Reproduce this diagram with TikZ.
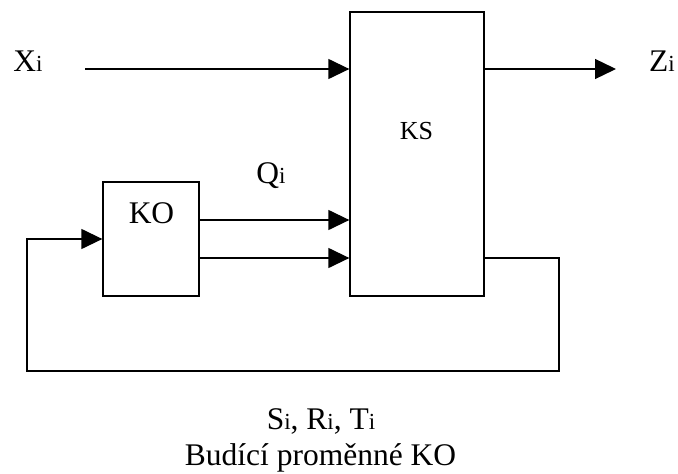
\documentclass[tikz,border=0pt]{standalone}
\usepackage{fontspec}
\setmainfont{Liberation Serif}
\usetikzlibrary{arrows.meta}
\newcommand\smi[1]{{\fontsize{23}{23}\selectfont #1}}
\begin{document}
\begin{tikzpicture}[x=1pt,y=-1pt,
  box/.style={draw,line width=1.3pt,inner sep=0pt,rectangle},
  conn/.style={line width=1.3pt,-{Triangle[length=21pt,width=20pt]}},
  lbl/.style={inner sep=0pt,anchor=base,font=\fontsize{31.5}{31.5}\selectfont}]
\useasboundingbox (0,0) rectangle (678,474);
% blocks
\node[box,minimum width=134pt,minimum height=284pt] (ks) at (417,154) {};
\node[box,minimum width=96pt,minimum height=114pt] (ko) at (151,239) {};
% labels
\node[lbl,font=\fontsize{26}{26}\selectfont] (kslbl) at (416.5,139) {KS};
\node[lbl] (kolbl) at (151.5,223) {KO};
\node[lbl] (xi) at (28,71) {X\smi{i}};
\node[lbl] (zi) at (662,71) {Z\smi{i}};
\node[lbl] (qi) at (271,183) {Q\smi{i}};
\node[lbl] (sri) at (321,429) {S\smi{i}, R\smi{i}, T\smi{i}};
\node[lbl] (bud) at (320.5,465) {Budící proměnné KO};
% connectors
\coordinate (xs) at (85,69);
\coordinate (ze) at (616,69);
\draw[conn] (xs) -- (xs -| ks.west);
\draw[conn] (ks.east |- ze) -- (ze);
\draw[conn] (ko.east |- 0,220) -- (ks.west |- 0,220);
\draw[conn] (ko.east |- 0,258) -- (ks.west |- 0,258);
\coordinate (fr) at (559,371);
\coordinate (fl) at (27,371);
\draw[conn] (ks.east |- 0,258) -| (fr) -- (fl) |- (ko.west |- 0,239);
\end{tikzpicture}
\end{document}
